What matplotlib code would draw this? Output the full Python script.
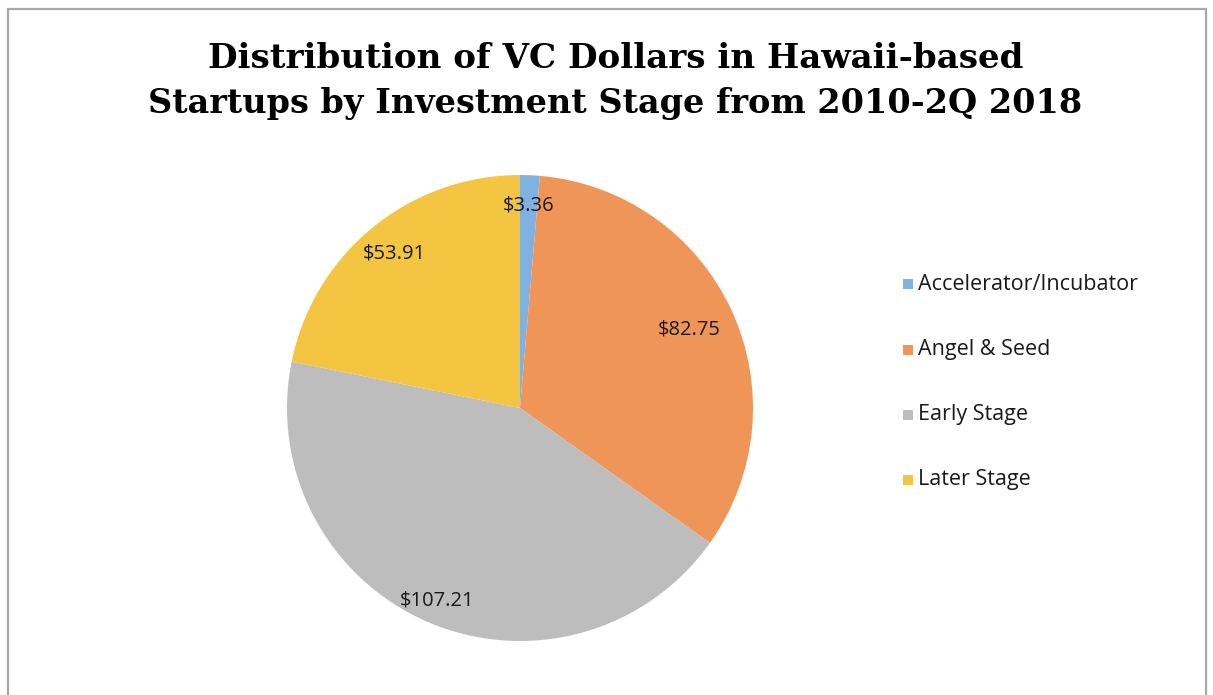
import matplotlib.pyplot as plt
from matplotlib.patches import Rectangle
import numpy as np

# data
stages = ["Accelerator/Incubator", "Angel & Seed", "Early Stage", "Later Stage"]
dollars = [3.36, 82.75, 107.21, 53.91]
labels = ["$3.36", "$82.75", "$107.21", "$53.91"]
colors = ["#7fb2e0", "#ef9558", "#bdbdbd", "#f4c541"]
label_r = [0.87, 0.80, 0.90, 0.855]

W, H = 1213, 695
fig = plt.figure(figsize=(W / 100, H / 100), dpi=100)

# outer frame
fig.patches.append(Rectangle((8 / W, -0.02), (1206 - 8) / W, (H - 9) / H + 0.02,
                             transform=fig.transFigure, fill=False,
                             edgecolor="#a8a8a8", linewidth=1.6))

fig.text(616 / W, 1 - 59 / H, "Distribution of VC Dollars in Hawaii-based",
         ha="center", va="center", fontsize=24.6, fontweight="bold", family="DejaVu Serif")
fig.text(615 / W, 1 - 104 / H, "Startups by Investment Stage from 2010-2Q 2018",
         ha="center", va="center", fontsize=24.1, fontweight="bold", family="DejaVu Serif")

cx, cy, r = 520, 408, 233
ax = fig.add_axes([(cx - r) / W, (H - cy - r) / H, 2 * r / W, 2 * r / H])
wedges, _ = ax.pie(dollars, colors=colors, startangle=90, counterclock=False,
                   wedgeprops=dict(linewidth=0))
ax.set_xlim(-1, 1)
ax.set_ylim(-1, 1)
ax.set_aspect("equal")

for w, lab, rr in zip(wedges, labels, label_r):
    ang = np.deg2rad((w.theta1 + w.theta2) / 2)
    ax.text(rr * np.cos(ang), rr * np.sin(ang), lab, ha="center", va="center",
            fontsize=14.5, family="Open Sans", color="#1a1a1a")

# legend
leg_y = [284, 350, 415, 480]
for name, c, y in zip(stages, colors, leg_y):
    fig.patches.append(Rectangle((903 / W, 1 - (y + 5) / H), 10 / W, 10 / H,
                                 transform=fig.transFigure, facecolor=c, edgecolor="none"))
    fig.text(918 / W, 1 - y / H, name, ha="left", va="center", fontsize=15.5,
             family="Open Sans", color="#1a1a1a")

plt.savefig("out.png", dpi=100)
